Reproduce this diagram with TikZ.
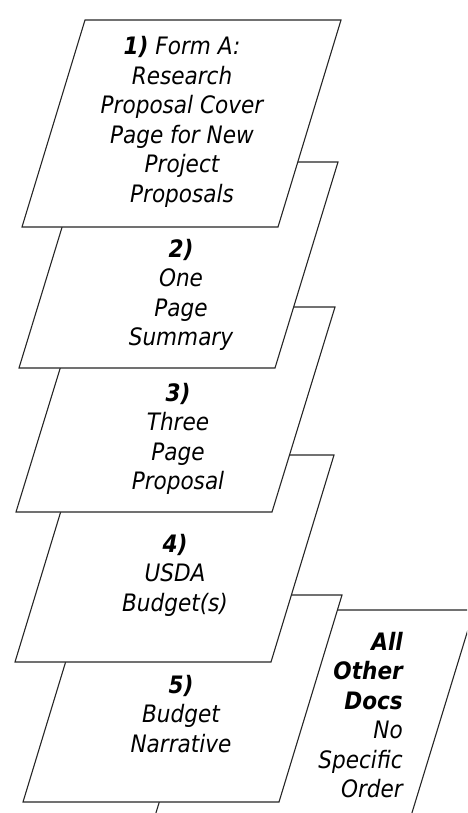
\documentclass[tikz,border=0pt]{standalone}
\usepackage{fontspec}
\setmainfont{DejaVu Sans Condensed}

\begin{document}
\begin{tikzpicture}
  [x=1pt,y=-1pt,
   page/.style={draw=black!85,fill=white,line width=1.1pt},
   pagetext/.style={align=center,inner sep=0pt,
     font={\fontsize{24}{29.5}\selectfont\itshape}}]

  \useasboundingbox (0,0) rectangle (467,813);
  \clip (0,0) rectangle (467,813);

  % bottom page first, top page last
  \filldraw[page] (155,816) -- ++(256,0) -- ++(63,-206) -- ++(-256,0) -- cycle;
  \node[pagetext,align=right,anchor=east] (other) at (403,715)
    {\textbf{All}\\\textbf{Other}\\\textbf{Docs}\\No\\Specific\\Order};

  \filldraw[page] (23,802) -- ++(256,0) -- ++(63,-207) -- ++(-256,0) -- cycle;
  \node[pagetext] (p5) at (181,714) {\textbf{5)}\\Budget\\Narrative};

  \filldraw[page] (15,662) -- ++(256,0) -- ++(63,-207) -- ++(-256,0) -- cycle;
  \node[pagetext] (p4) at (175,575) {\textbf{4)}\\USDA\\Budget(s)};

  \filldraw[page] (16,512) -- ++(256,0) -- ++(63,-205) -- ++(-256,0) -- cycle;
  \node[pagetext] (p3) at (178,439) {\textbf{3)}\\Three\\Page\\Proposal};

  \filldraw[page] (19,368) -- ++(256,0) -- ++(63,-206) -- ++(-256,0) -- cycle;
  \node[pagetext] (p2) at (181,295) {\textbf{2)}\\One\\Page\\Summary};

  \filldraw[page] (22,227) -- ++(256,0) -- ++(63,-207) -- ++(-256,0) -- cycle;
  \node[pagetext] (p1) at (182,122)
    {\textbf{1)} Form A:\\Research\\Proposal Cover\\Page for New\\Project\\Proposals};

\end{tikzpicture}
\end{document}
